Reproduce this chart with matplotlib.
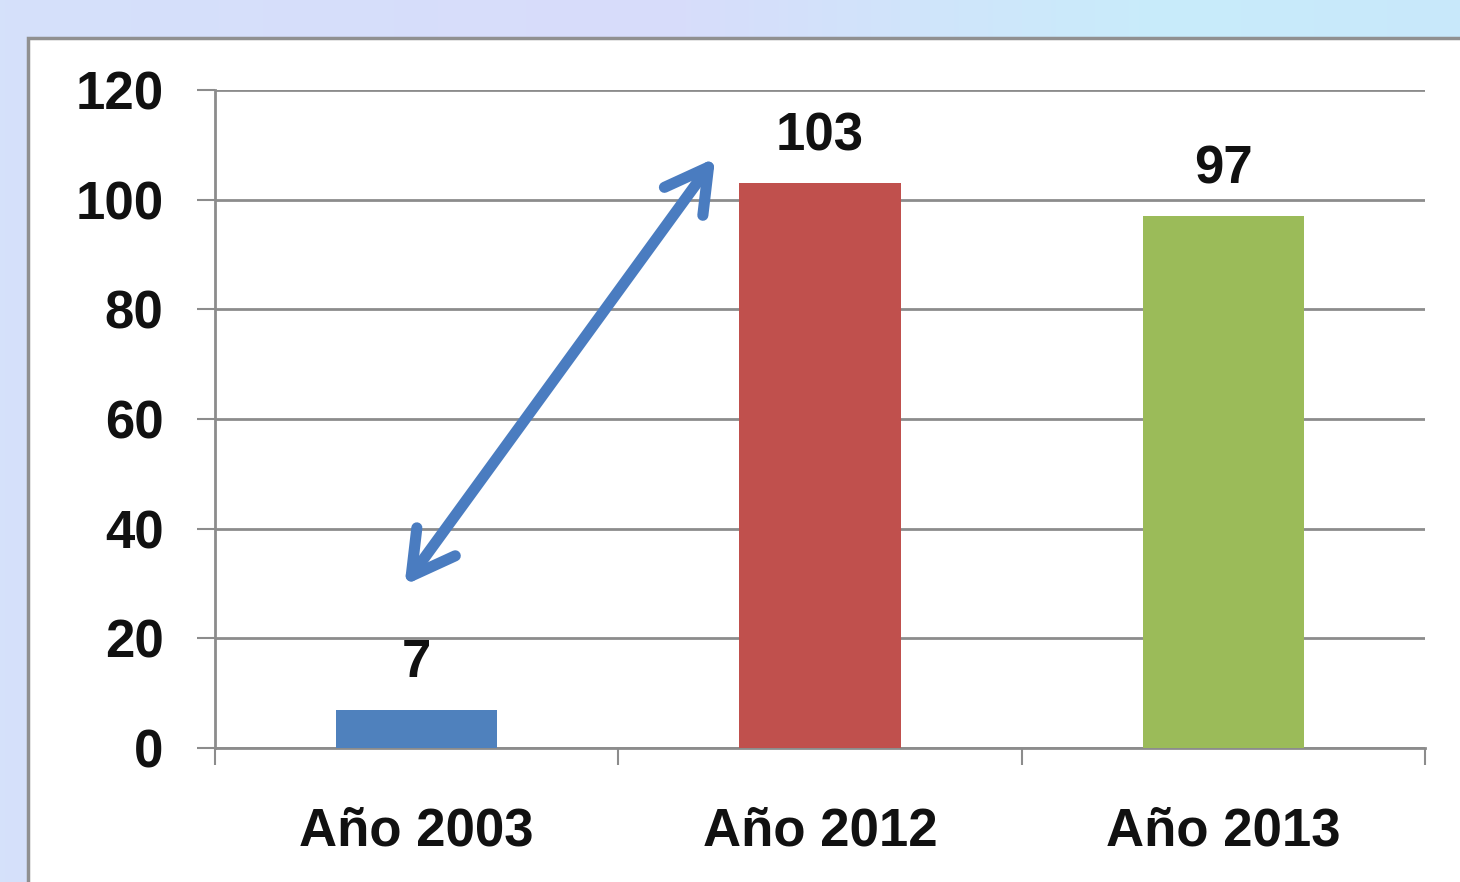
import matplotlib
matplotlib.use("Agg")
import matplotlib.pyplot as plt
import numpy as np
from matplotlib.patches import Rectangle, FancyArrowPatch

categories = ["Año 2003", "Año 2012", "Año 2013"]
values = [7, 103, 97]
colors = ["#4f81bd", "#c0504d", "#9bbb59"]
yticks = [0, 20, 40, 60, 80, 100, 120]

W, H = 1460, 882
fig = plt.figure(figsize=(W / 100, H / 100), dpi=100)

# background gradient
bg = fig.add_axes([0, 0, 1, 1], zorder=-10)
gx = np.linspace(0, 1, 300)
stops = [(0.0, (213, 225, 250)), (0.45, (216, 220, 250)), (0.7, (205, 232, 250)),
         (0.8, (200, 236, 250)), (1.0, (200, 232, 250))]
img = np.zeros((2, len(gx), 3))
for i, t in enumerate(gx):
    for (t0, c0), (t1, c1) in zip(stops[:-1], stops[1:]):
        if t0 <= t <= t1:
            f = (t - t0) / (t1 - t0)
            img[:, i, :] = (np.array(c0) + (np.array(c1) - np.array(c0)) * f) / 255
            break
bg.imshow(img, aspect="auto", extent=[0, 1, 0, 1])
bg.set_xlim(0, 1)
bg.set_ylim(0, 1)
bg.axis("off")
# white panel
bg.add_patch(Rectangle((28 / W, -0.1), 1.1, 1.1 - 38 / H, facecolor="white",
                       edgecolor="#909090", linewidth=2.5, transform=bg.transAxes))

ax = fig.add_axes([215 / W, 1 - 748 / H, (1425 - 215) / W, (748 - 90) / H])
ax.set_facecolor("none")
x = np.arange(len(categories))
ax.bar(x, values, width=0.4, color=colors, zorder=3)
ax.set_xlim(-0.5, 2.5)
ax.set_ylim(0, 120)
ax.set_yticks(yticks)
ax.set_yticklabels([str(v) for v in yticks])
ax.yaxis.grid(True, color="#8c8c8c", linewidth=2, zorder=0)
ax.set_axisbelow(True)
for s in ["top", "right"]:
    ax.spines[s].set_visible(False)
ax.spines["left"].set_color("#8c8c8c")
ax.spines["left"].set_linewidth(2)
ax.spines["bottom"].set_color("#8c8c8c")
ax.spines["bottom"].set_linewidth(2)

ax.tick_params(axis="y", length=13, width=1.5, color="#8c8c8c", pad=24,
               labelsize=38)
ax.set_xticks([-0.5, 0.5, 1.5, 2.5])
ax.set_xticklabels([])
ax.set_xticks(x, minor=True)
ax.set_xticklabels(categories, minor=True)
ax.tick_params(axis="x", which="major", length=12, width=1.5, color="#8c8c8c")
ax.tick_params(axis="x", which="minor", length=0, pad=42, labelsize=38)
for lab in ax.get_yticklabels() + ax.get_xticklabels(minor=True):
    lab.set_fontfamily("Liberation Sans")
    lab.set_fontweight("bold")
    lab.set_color("#111111")

for xi, v in zip(x, values):
    ax.text(xi, v + 4, str(v), ha="center", va="bottom", fontsize=38,
            fontweight="bold", family="Liberation Sans", color="#111111")

arrow = FancyArrowPatch((-0.03, 29.7), (0.74, 107.6),
                        arrowstyle="<->,head_length=0.8,head_width=0.45",
                        mutation_scale=38, color="#4a7cc0", linewidth=8, zorder=5,
                        clip_on=False, capstyle="round", joinstyle="round",
                        shrinkA=0, shrinkB=0)
ax.add_patch(arrow)

fig.savefig("out.png", dpi=100)
